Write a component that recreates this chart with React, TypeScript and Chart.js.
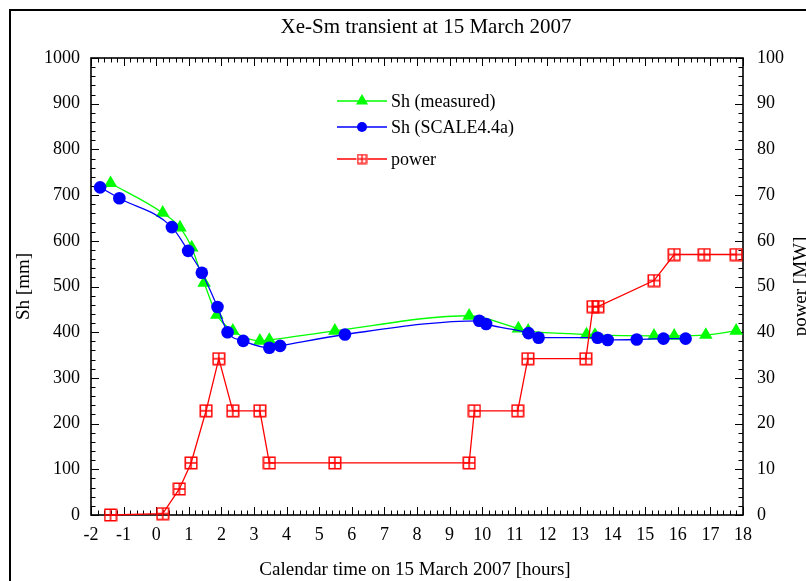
import React, { useEffect, useRef } from 'react';
import { Chart, registerables } from 'chart.js';

Chart.register(...registerables);

const chartTitle = 'Xe-Sm transient at 15 March 2007';
const xTitle = 'Calendar time on 15 March 2007 [hours]';
const yTitle = 'Sh [mm]';
const y2Title = 'power [MW]';

const measuredLabel = 'Sh (measured)';
const scaleLabel = 'Sh (SCALE4.4a)';
const powerLabel = 'power';

const measuredTime = [-1.40, 0.20, 0.73, 1.09, 1.47, 1.86, 2.35, 3.18, 3.47, 5.48, 9.60, 11.11, 11.41, 13.20, 13.46, 15.27, 15.89, 16.86, 17.79];
const measuredSh = [726, 661, 629, 585, 508, 438, 403, 381, 383, 403, 436, 408, 403, 395, 394, 392, 392, 394, 403];

const scaleTime = [-1.72, -1.13, 0.48, 0.98, 1.40, 1.88, 2.19, 2.67, 3.47, 3.80, 5.79, 9.91, 10.12, 11.42, 11.73, 13.54, 13.85, 14.74, 15.56, 16.24];
const scaleSh = [717, 693, 630, 578, 530, 455, 400, 381, 366, 370, 395, 425, 418, 398, 388, 388, 383, 384, 386, 386];

const powerTime = [-1.40, 0.20, 0.71, 1.07, 1.53, 1.92, 2.35, 3.18, 3.47, 5.48, 9.60, 9.76, 11.09, 11.40, 13.18, 13.40, 13.55, 15.27, 15.89, 16.81, 17.79];
const powerMW = [0, 0.3, 5.7, 11.4, 22.8, 34.2, 22.8, 22.8, 11.4, 11.4, 11.4, 22.8, 22.8, 34.2, 34.2, 45.6, 45.6, 51.3, 57, 57, 57];

const xMin = -2, xMax = 18;
const yMin = 0, yMax = 1000;
const y2Min = 0, y2Max = 100;

const FONT = '"Liberation Serif", "Times New Roman", serif';
const GREEN = '#00ff00';
const BLUE = '#0000ff';
const RED = '#ff0000';

function makeBoxCross(size: number, lw: number) {
  const c = document.createElement('canvas');
  c.width = size;
  c.height = size;
  const g = c.getContext('2d')!;
  g.strokeStyle = RED;
  g.lineWidth = lw;
  const m = lw / 2 + 0.5;
  g.strokeRect(m, m, size - 2 * m, size - 2 * m);
  g.beginPath();
  g.moveTo(size / 2, m);
  g.lineTo(size / 2, size - m);
  g.moveTo(m, size / 2);
  g.lineTo(size - m, size / 2);
  g.stroke();
  return c;
}

function drawTriangle(ctx: CanvasRenderingContext2D, x: number, y: number, r: number) {
  ctx.beginPath();
  for (let k = 0; k < 3; k++) {
    const a = (k * 2 * Math.PI) / 3;
    const px = x + Math.sin(a) * r;
    const py = y - Math.cos(a) * r;
    if (k === 0) ctx.moveTo(px, py);
    else ctx.lineTo(px, py);
  }
  ctx.closePath();
  ctx.fill();
}

export default function App() {
  const ref = useRef<HTMLCanvasElement | null>(null);

  useEffect(() => {
    const canvas = ref.current;
    if (!canvas) return;
    const boxCross = makeBoxCross(14, 1.5);
    const boxCrossSmall = makeBoxCross(11, 1.3);

    const decor = {
      id: 'decor',
      beforeDatasetsDraw(chart: any) {
        const { ctx, chartArea: a, scales } = chart;
        ctx.save();
        ctx.strokeStyle = '#000';
        ctx.lineWidth = 1;
        const xs = scales.x;
        for (let i = 0; i <= (xMax - xMin) * 5; i++) {
          const v = xMin + i * 0.2;
          const px = Math.round(xs.getPixelForValue(v)) + 0.5;
          const len = i % 5 === 0 ? 8 : 4.5;
          ctx.beginPath();
          ctx.moveTo(px, a.bottom);
          ctx.lineTo(px, a.bottom - len);
          ctx.moveTo(px, a.top);
          ctx.lineTo(px, a.top + len);
          ctx.stroke();
        }
        const ys = scales.y;
        for (let i = 0; i <= 50; i++) {
          const v = yMin + i * 20;
          const py = Math.round(ys.getPixelForValue(v)) + 0.5;
          const len = i % 5 === 0 ? 8 : 4.5;
          ctx.beginPath();
          ctx.moveTo(a.left, py);
          ctx.lineTo(a.left + len, py);
          ctx.stroke();
        }
        const y2 = scales.y2;
        for (let i = 0; i <= 50; i++) {
          const v = y2Min + i * 2;
          const py = Math.round(y2.getPixelForValue(v)) + 0.5;
          const len = i % 5 === 0 ? 8 : 4.5;
          ctx.beginPath();
          ctx.moveTo(a.right, py);
          ctx.lineTo(a.right - len, py);
          ctx.stroke();
        }
        ctx.lineWidth = 1.6;
        ctx.strokeRect(a.left, a.top, a.right - a.left, a.bottom - a.top);
        ctx.restore();
      },
      afterDraw(chart: any) {
        const { ctx, chartArea: a } = chart;
        ctx.save();
        // outer frame
        ctx.strokeStyle = '#000';
        ctx.lineWidth = 2;
        ctx.strokeRect(10, 10, 1000, 1000);
        ctx.fillStyle = '#000';
        ctx.textBaseline = 'middle';
        ctx.textAlign = 'center';
        ctx.font = `21px ${FONT}`;
        ctx.fillText(chartTitle, 426, 27);
        ctx.font = `19px ${FONT}`;
        ctx.fillText(xTitle, 415, 570);
        const cy = (a.top + a.bottom) / 2;
        ctx.save();
        ctx.translate(24, cy);
        ctx.rotate(-Math.PI / 2);
        ctx.fillText(yTitle, 0, 0);
        ctx.restore();
        ctx.save();
        ctx.translate(801, cy);
        ctx.rotate(-Math.PI / 2);
        ctx.fillText(y2Title, 0, 0);
        ctx.restore();

        // legend
        const rows = [
          { label: measuredLabel, color: GREEN, y: 101, kind: 'tri' },
          { label: scaleLabel, color: BLUE, y: 127, kind: 'circ' },
          { label: powerLabel, color: RED, y: 159, kind: 'box' },
        ];
        ctx.font = `18px ${FONT}`;
        ctx.textAlign = 'left';
        for (const r of rows) {
          ctx.strokeStyle = r.color;
          ctx.fillStyle = r.color;
          ctx.lineWidth = 1.5;
          ctx.beginPath();
          ctx.moveTo(337, r.y);
          ctx.lineTo(387, r.y);
          ctx.stroke();
          if (r.kind === 'tri') {
            drawTriangle(ctx, 362, r.y, 7);
          } else if (r.kind === 'circ') {
            ctx.beginPath();
            ctx.arc(362, r.y, 5, 0, Math.PI * 2);
            ctx.fill();
          } else {
            ctx.fillStyle = '#fff';
            ctx.fillRect(356.5, r.y - 5.5, 11, 11);
            ctx.drawImage(boxCrossSmall, 356.5, r.y - 5.5);
          }
          ctx.fillStyle = '#000';
          ctx.fillText(r.label, 391, r.y + 1);
        }
        ctx.restore();
      },
    };

    const chart = new Chart(canvas, {
      type: 'line',
      data: {
        datasets: [
          {
            label: powerLabel,
            data: powerTime.map((t, i) => ({ x: t, y: powerMW[i] })),
            yAxisID: 'y2',
            borderColor: RED,
            backgroundColor: RED,
            borderWidth: 1.3,
            pointStyle: boxCross as any,
            pointRadius: 7,
            tension: 0,
            fill: false,
            clip: false as any,
          },
          {
            label: scaleLabel,
            data: scaleTime.map((t, i) => ({ x: t, y: scaleSh[i] })),
            yAxisID: 'y',
            borderColor: BLUE,
            backgroundColor: BLUE,
            borderWidth: 1.3,
            pointStyle: 'circle',
            pointRadius: 6.3,
            pointBorderWidth: 0,
            cubicInterpolationMode: 'monotone',
            fill: false,
            clip: false as any,
          },
          {
            label: measuredLabel,
            data: measuredTime.map((t, i) => ({ x: t, y: measuredSh[i] })),
            yAxisID: 'y',
            borderColor: GREEN,
            backgroundColor: GREEN,
            borderWidth: 1.3,
            pointStyle: 'triangle',
            pointRadius: 7.8,
            pointBorderWidth: 0,
            cubicInterpolationMode: 'monotone',
            fill: false,
            clip: false as any,
          },
        ],
      },
      options: {
        animation: false,
        responsive: false,
        layout: { padding: { top: 58, bottom: 0, left: 0, right: 0 } },
        plugins: {
          legend: { display: false },
          tooltip: { enabled: false },
          title: { display: false },
        },
        scales: {
          x: {
            type: 'linear',
            position: 'bottom',
            min: xMin,
            max: xMax,
            grid: { display: false, drawTicks: false },
            border: { display: false },
            ticks: {
              stepSize: 1,
              autoSkip: false,
              maxRotation: 0,
              padding: 9,
              color: '#000',
              font: { family: FONT, size: 18 },
              callback: (v: any) => String(v),
            },
            afterFit: (s: any) => { s.height = 66; },
          },
          y: {
            type: 'linear',
            position: 'left',
            min: yMin,
            max: yMax,
            grid: { display: false, drawTicks: false },
            border: { display: false },
            ticks: {
              stepSize: 100,
              padding: 11,
              color: '#000',
              font: { family: FONT, size: 18 },
              callback: (v: any) => String(v),
            },
            afterFit: (s: any) => { s.width = 91; },
          },
          y2: {
            type: 'linear',
            position: 'right',
            min: y2Min,
            max: y2Max,
            grid: { display: false, drawTicks: false },
            border: { display: false },
            ticks: {
              stepSize: 10,
              padding: 14,
              color: '#000',
              font: { family: FONT, size: 18 },
              callback: (v: any) => String(v),
            },
            afterFit: (s: any) => { s.width = 63; },
          },
        },
      } as any,
      plugins: [decor as any],
    });
    return () => chart.destroy();
  }, []);

  return (
    <div style={{ position: 'absolute', left: 0, top: 0, width: 806, height: 581, background: '#fff' }}>
      <canvas ref={ref} width={806} height={581} style={{ display: 'block' }} />
    </div>
  );
}
